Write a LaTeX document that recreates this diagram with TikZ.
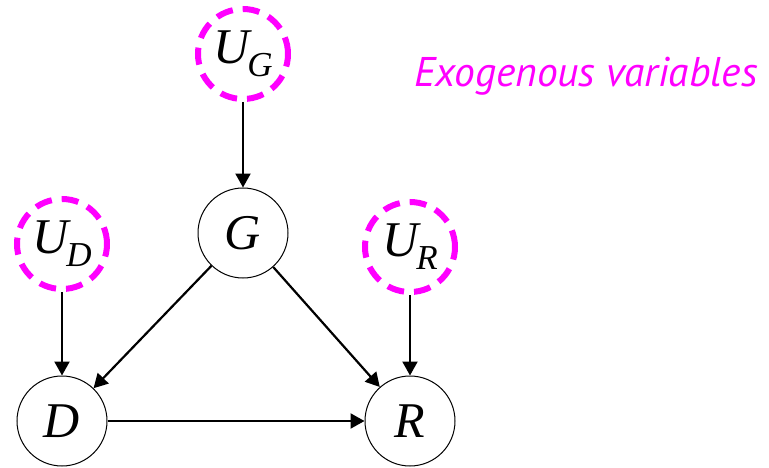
\documentclass[tikz,border=0pt]{standalone}
\usepackage{fontspec}
\newfontfamily\labelfont{PT Sans}
\newfontfamily\varfont{Liberation Serif}
\usetikzlibrary{arrows.meta}
\definecolor{exomag}{RGB}{255,0,255}
\newcommand{\mainvar}[1]{{\varfont\itshape\fontsize{50}{52}\selectfont #1}}
\newcommand{\exovar}[1]{{\varfont\itshape\fontsize{50}{52}\selectfont U\kern-2pt\raisebox{-13pt}{\fontsize{35}{37}\selectfont #1}}}
\tikzset{
  endo/.style={circle, draw=black, line width=1pt, minimum size=90pt, inner sep=0pt},
  exo/.style={circle, draw=exomag, line width=6pt, dash pattern=on 17pt off 10pt, minimum size=90pt, inner sep=0pt},
  edge/.style={line width=2.2pt, -{Triangle[length=14pt,width=15pt]}}
}
\begin{document}
\begin{tikzpicture}[x=1pt,y=1pt]
\useasboundingbox (0,0) rectangle (769,467);
\node[exo] (UG) at (243,413) {\exovar{G}};
\node[endo] (G) at (243,234) {\mainvar{G}};
\node[exo] (UD) at (62,223) {\exovar{D}};
\node[endo] (D) at (62,46) {\mainvar{D}};
\node[exo] (UR) at (410,220) {\exovar{R}};
\node[endo] (R) at (410,46) {\mainvar{R}};
\node[text=exomag, font=\labelfont\itshape\fontsize{41.5}{44}\selectfont, anchor=base] (lbl) at (586,380) {Exogenous variables};
\draw[edge] (UG) -- (G);
\draw[edge] (UD) -- (D);
\draw[edge] (UR) -- (R);
\draw[edge] (G) -- (D);
\draw[edge] (G) -- (R);
\draw[edge] (D) -- (R);
\end{tikzpicture}
\end{document}
